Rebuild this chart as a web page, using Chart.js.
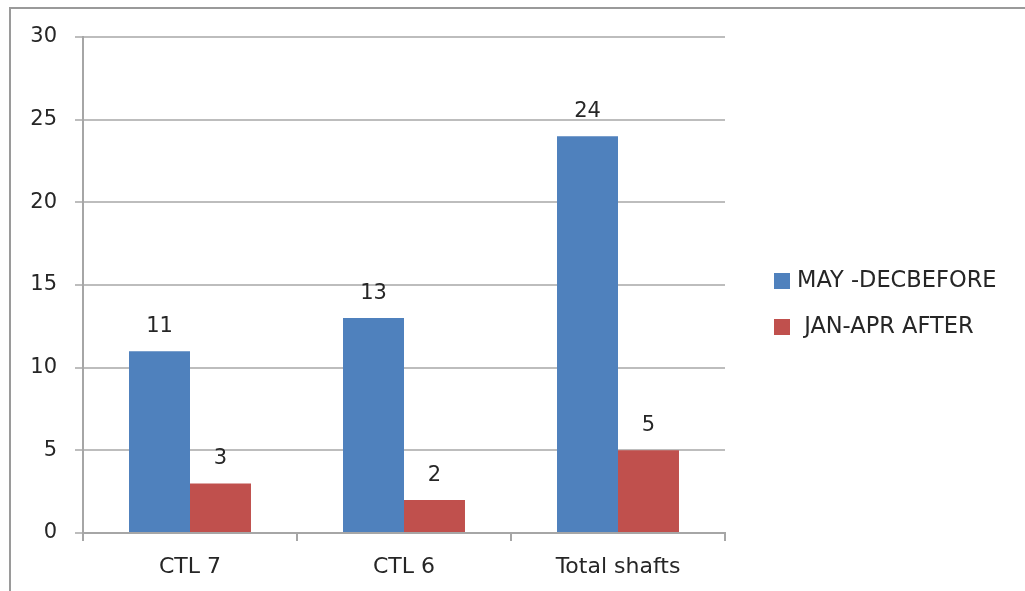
<!DOCTYPE html>
<html>
<head>
<meta charset="utf-8">
<script src="https://cdn.jsdelivr.net/npm/chart.js@4"></script>
<style>
html,body{margin:0;padding:0;background:#fff;overflow:hidden;}
#wrap{position:absolute;left:0;top:0;width:1025px;height:591px;}
</style>
</head>
<body>
<div id="wrap"><canvas id="c" width="1025" height="591"></canvas></div>
<script>
const categories = ["CTL 7", "CTL 6", "Total shafts"];
const seriesNames = ["MAY -DECBEFORE", " JAN-APR AFTER"];
const beforeValues = [11, 13, 24];
const afterValues = [3, 2, 5];
const yTicks = [0, 5, 10, 15, 20, 25, 30];

const FONT = "'DejaVu Sans', sans-serif";
const TEXT = '#262626';

const framePlugin = {
  id: 'frame',
  beforeDraw(chart) {
    const ctx = chart.ctx;
    ctx.save();
    ctx.fillStyle = '#fff';
    ctx.fillRect(0, 0, chart.width, chart.height);
    ctx.strokeStyle = '#9a9a9a';
    ctx.lineWidth = 2;
    ctx.beginPath();
    ctx.moveTo(10, chart.height);
    ctx.lineTo(10, 8);
    ctx.lineTo(chart.width, 8);
    ctx.stroke();
    ctx.restore();
  }
};

const labelsPlugin = {
  id: 'vals',
  afterDatasetsDraw(chart) {
    const ctx = chart.ctx;
    ctx.save();
    ctx.font = '21px ' + FONT;
    ctx.fillStyle = TEXT;
    ctx.textAlign = 'center';
    ctx.textBaseline = 'bottom';
    chart.data.datasets.forEach((ds, i) => {
      chart.getDatasetMeta(i).data.forEach((bar, j) => {
        ctx.fillText(String(ds.data[j]), bar.x, bar.y - 14);
      });
    });
    ctx.restore();
  }
};

const legendPlugin = {
  id: 'customLegend',
  afterDraw(chart) {
    const ctx = chart.ctx;
    ctx.save();
    ctx.font = '22.5px ' + FONT;
    ctx.textBaseline = 'middle';
    ctx.textAlign = 'left';
    chart.data.datasets.forEach((ds, i) => {
      const y = 280 + i * 46;
      ctx.fillStyle = ds.backgroundColor;
      ctx.fillRect(774, y - 7, 16, 16);
      ctx.fillStyle = TEXT;
      ctx.fillText(ds.label, 797, y + 1);
    });
    ctx.restore();
  }
};

new Chart(document.getElementById('c'), {
  type: 'bar',
  data: {
    labels: categories,
    datasets: [
      { label: seriesNames[0], data: beforeValues, backgroundColor: '#4F81BD' },
      { label: seriesNames[1], data: afterValues, backgroundColor: '#C0504D' }
    ]
  },
  options: {
    responsive: false,
    animation: false,
    devicePixelRatio: 1,
    layout: { padding: { left: 0, right: 300, top: 37, bottom: 0 } },
    plugins: { legend: { display: false }, tooltip: { enabled: false } },
    datasets: { bar: { categoryPercentage: 0.57, barPercentage: 1.0 } },
    scales: {
      x: {
        offset: true,
        grid: { display: true, drawOnChartArea: false, offset: true, tickLength: 8, color: '#a6a6a6', lineWidth: 2 },
        border: { display: true, color: '#a6a6a6', width: 2 },
        ticks: { font: { family: FONT, size: 22 }, color: TEXT, padding: 13 },
        afterFit(scale) { scale.height = 58; }
      },
      y: {
        min: 0, max: 30,
        afterBuildTicks(scale) { scale.ticks = yTicks.map(v => ({ value: v })); },
        grid: { color: '#bdbdbd', lineWidth: 2, tickLength: 8 },
        border: { display: true, color: '#a6a6a6', width: 2 },
        ticks: { font: { family: FONT, size: 21 }, color: TEXT, padding: 18 },
        afterFit(scale) { scale.width = 83; }
      }
    }
  },
  plugins: [framePlugin, labelsPlugin, legendPlugin]
});
</script>
</body>
</html>
